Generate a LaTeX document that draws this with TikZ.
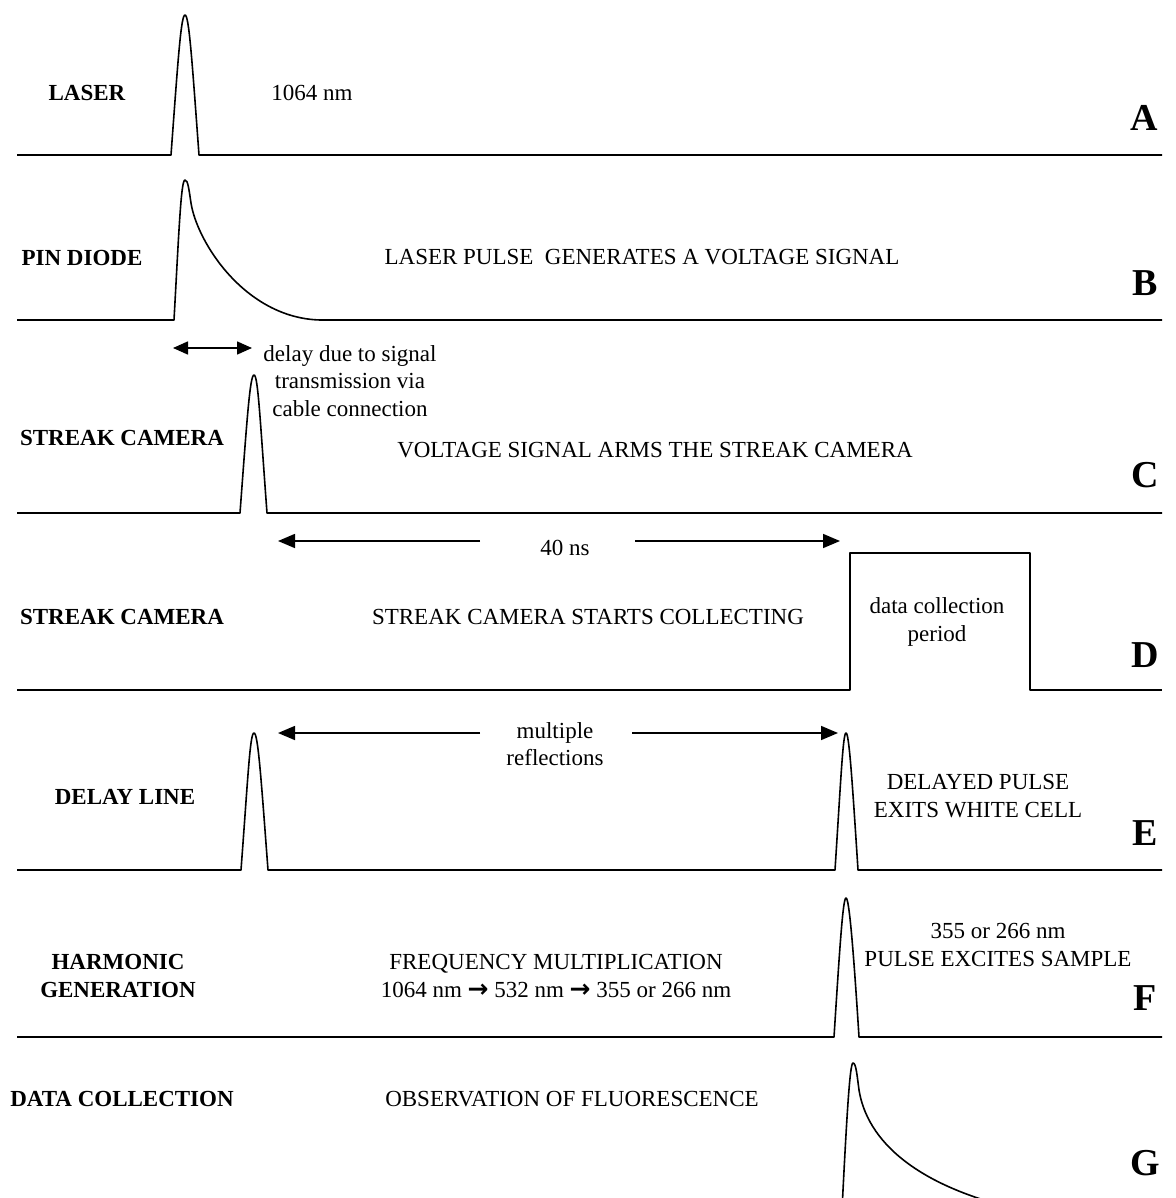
\documentclass[tikz,border=0pt]{standalone}
\usepackage{fontspec}
\setmainfont{Liberation Serif}
\newfontfamily\arrowfont{DejaVu Sans}
\usetikzlibrary{arrows.meta}

\begin{document}
\begin{tikzpicture}[x=1pt, y=-1pt,
  every node/.style={font=\fontsize{23}{27.5}\selectfont, inner sep=0pt},
  stage/.style={font=\fontsize{23}{27.5}\selectfont\bfseries, align=center},
  note/.style={align=center},
  panel/.style={font=\fontsize{38}{38}\selectfont\bfseries},
  trace/.style={line width=1.6pt, line join=round},
  span/.style={line width=1.6pt, -{Triangle[length=17pt,width=14pt]}},
  both/.style={line width=1.6pt, {Triangle[length=15pt,width=13pt]}-{Triangle[length=15pt,width=13pt]}},
]
  \useasboundingbox (0,0) rectangle (1175,1198);
  \clip (0,0) rectangle (1175,1198);

  % A: laser
  \node[stage] (laser) at (87,93) {LASER};
  \node (wl)    at (312,93)   {1064 nm};
  \node[panel] (pA) at (1144,118) {A};
  \draw[trace] (17,155) -- (171,155)
    .. controls (178,60) and (181,15) .. (185,15)
    .. controls (189,15) and (192,60) .. (199,155) -- (1162,155);

  % B: pin diode
  \node[stage] (pin) at (82,258) {PIN DIODE};
  \node (volt) at (642,257) {LASER PULSE\ \ GENERATES A VOLTAGE SIGNAL};
  \node[panel] (pB) at (1145,283) {B};
  \draw[trace] (17,320) -- (174,320)
    .. controls (179,230) and (181,180) .. (185,180)
    .. controls (188,180) and (189,190) .. (191,203)
    .. controls (197,242) and (245,318) .. (320,320) -- (1162,320);

  % C: streak camera armed
  \coordinate (dl) at (173,348);
  \coordinate (dr) at (252,348);
  \draw[both] (dl) -- (dr);
  \node[note] (delay) at (350,381) {delay due to signal\\transmission via\\cable connection};
  \node[stage] (cam1) at (122,438) {STREAK CAMERA};
  \node (arms) at (655,450) {VOLTAGE SIGNAL ARMS THE STREAK CAMERA};
  \node[panel] (pC) at (1145,475) {C};
  \draw[trace] (17,513) -- (240,513)
    .. controls (247,419) and (250,375) .. (254,375)
    .. controls (258,375) and (260,419) .. (267,513) -- (1162,513);

  % D: streak camera collecting
  \node (ns) at (565,548) {40 ns};
  \coordinate (nsl)  at (278,541);
  \coordinate (nsla) at (480,541);
  \coordinate (nsra) at (635,541);
  \coordinate (nsr)  at (840,541);
  \draw[span] (nsla) -- (nsl);
  \draw[span] (nsra) -- (nsr);
  \node[stage] (cam2) at (122,617) {STREAK CAMERA};
  \node (start) at (588,617) {STREAK CAMERA STARTS COLLECTING};
  \node[note] (period) at (937,622) {data collection\\period};
  \node[panel] (pD) at (1145,655) {D};
  \draw[trace] (17,690) -- (850,690) -- (850,553) -- (1030,553)
    -- (1030,690) -- (1162,690);

  % E: delay line
  \node[note] (refl) at (555,744) {multiple\\reflections};
  \coordinate (rfl)  at (278,733);
  \coordinate (rfla) at (480,733);
  \coordinate (rfra) at (632,733);
  \coordinate (rfr)  at (838,733);
  \draw[span] (rfla) -- (rfl);
  \draw[span] (rfra) -- (rfr);
  \node[stage] (dline) at (125,797) {DELAY LINE};
  \node[note] (exits) at (978,796) {DELAYED PULSE\\EXITS WHITE CELL};
  \node[panel] (pE) at (1145,833) {E};
  \draw[trace] (17,870) -- (241,870)
    .. controls (248,777) and (250,733) .. (254,733)
    .. controls (258,733) and (261,777) .. (268,870) -- (835,870)
    .. controls (841,777) and (843,733) .. (846,733)
    .. controls (849,733) and (852,777) .. (858,870) -- (1162,870);

  % F: harmonic generation
  \node[stage] (harm) at (118,976) {HARMONIC\\GENERATION};
  \node[note] (freq) at (556,976) {FREQUENCY MULTIPLICATION\\1064 nm {\arrowfont\bfseries\fontsize{25}{25}\selectfont →} 532 nm {\arrowfont\bfseries\fontsize{25}{25}\selectfont →} 355 or 266 nm};
  \node[note] (excite) at (998,945) {355 or 266 nm\\PULSE EXCITES SAMPLE};
  \node[panel] (pF) at (1145,998) {F};
  \draw[trace] (17,1037) -- (834,1037)
    .. controls (840,943) and (843,898) .. (846,898)
    .. controls (849,898) and (853,943) .. (859,1037) -- (1162,1037);

  % G: data collection
  \node[stage] (dcoll) at (122,1099) {DATA COLLECTION};
  \node (fluor) at (572,1099) {OBSERVATION OF FLUORESCENCE};
  \node[panel] (pG) at (1145,1163) {G};
  \draw[trace] (842,1210)
    .. controls (847,1110) and (850,1063) .. (853,1063)
    .. controls (856,1063) and (857,1075) .. (859,1090)
    .. controls (867,1140) and (915,1188) .. (1030,1212);
\end{tikzpicture}
\end{document}
